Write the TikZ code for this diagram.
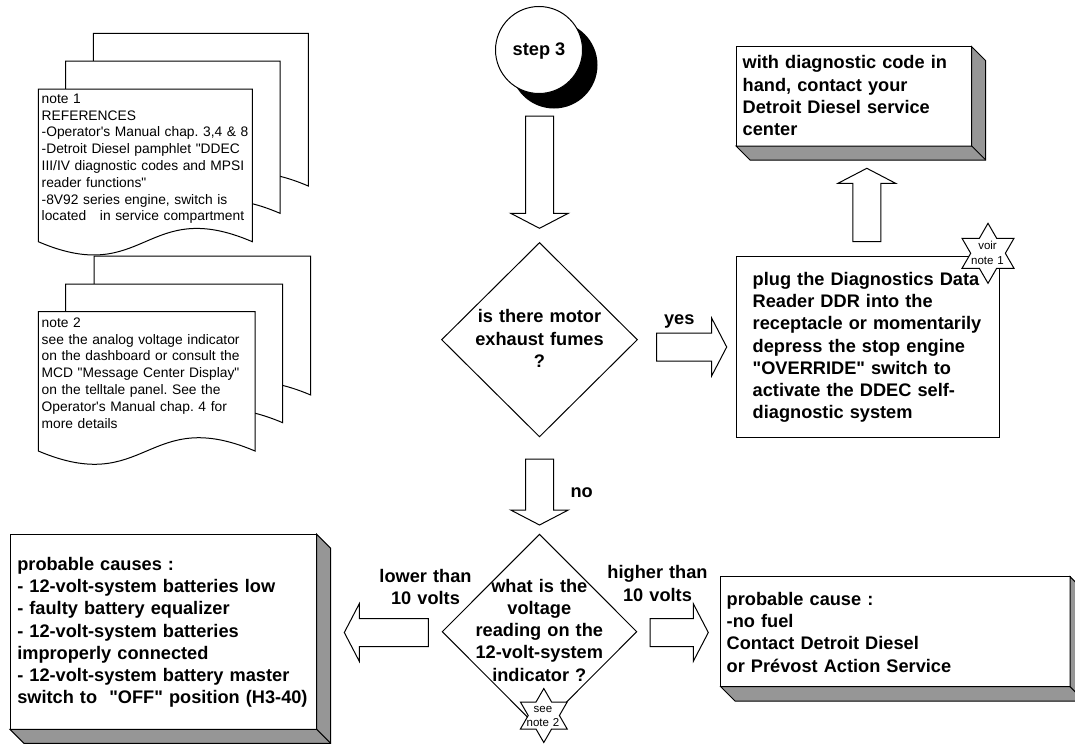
\documentclass[tikz,border=0pt]{standalone}
\usepackage{fontspec}
\setmainfont{Liberation Sans}[Ligatures=TeXOff]
\usetikzlibrary{shapes.geometric,calc}
\definecolor{sidegray}{RGB}{150,150,150}
\frenchspacing
\tikzset{
  every node/.style={inner sep=0pt, outer sep=0pt},
  line/.style={line width=1pt, draw=black},
  bfnt/.style={font=\fontsize{18.2}{22.2}\selectfont\bfseries\frenchspacing},
  btxt/.style={bfnt, align=left, text width=#1, anchor=base west},
  ctxt/.style={bfnt, align=center, text width=#1, anchor=base},
  ntxt/.style={font=\fontsize{13.8}{16.8}\selectfont\frenchspacing, align=left, text width=#1, anchor=base west},
  stxt/.style={font=\fontsize{11.5}{14.5}\selectfont, align=center, text width=40, anchor=base},
  boxnode/.style={rectangle, line, fill=white},
  starnode/.style={star, star points=6, star point ratio=1.732, line, fill=white, minimum size=#1},
  decision/.style={diamond, line, fill=white},
}
\newcommand\docpage[4]{%
  \draw[line, fill=white] (#1,#2) -- ({#1+#3},#2) -- ({#1+#3},{#2+#4})
    .. controls ({#1+#3/2},{#2+#4-46}) and ({#1+#3/2},{#2+#4+46}) .. (#1,{#2+#4}) -- cycle;}
\newcommand\extrude[2]{%
  \filldraw[line, fill=sidegray] (#1.north east) -- ($(#1.north east)+(#2,#2)$) -- ($(#1.south east)+(#2,#2)$)
    -- ($(#1.south west)+(#2,#2)$) -- (#1.south west) -- (#1.south east) -- cycle;
  \draw[line] (#1.south east) -- ($(#1.south east)+(#2,#2)$);}
\newcommand\barrow[3]{%
  \draw[line, fill=white, shift={(#1)}, rotate=#2] (0,-14) -- ({#3-15},-14) -- ({#3-15},-28.8) -- (#3,0)
    -- ({#3-15},28.8) -- ({#3-15},14) -- (0,14) -- cycle;}
\begin{document}
\frenchspacing
\begin{tikzpicture}[x=1pt,y=-1pt]
\useasboundingbox (0,0) rectangle (1075,744);
\clip (0,0) rectangle (1075,744);
\fill[white] (0,0) rectangle (1075,744);

% note 2 stack
\docpage{94}{256}{216.7}{139}
\docpage{65.7}{284}{217}{138.7}
\docpage{38.3}{311.7}{216.7}{139.3}
\node[ntxt=230] (n2) at (41.7,327.3) {note 2\\see the analog voltage indicator\\on the dashboard or consult the\\MCD "Message Center Display"\\on the telltale panel. See the\\Operator's Manual chap. 4 for\\more details};

% note 1 stack
\docpage{93.3}{33.3}{215}{152.7}
\docpage{65.7}{61}{214.3}{152.3}
\docpage{38.3}{89}{214}{152.7}
\node[ntxt=230] (n1) at (41.7,103.3) {note 1\\REFERENCES\\-Operator's Manual chap. 3,4 \& 8\\-Detroit Diesel pamphlet "DDEC\\III/IV diagnostic codes and MPSI\\reader functions"\\-8V92 series engine, switch is\\located\ \ \ in service compartment};

% step 3
\coordinate (stepc) at (539,50);
\fill[black] ($(stepc)+(15,15)$) circle[radius=43.5];
\node[circle, line, fill=white, minimum size=87] (step) at (stepc) {};
\node[bfnt, anchor=base] (steptxt) at (539,55.5) {step 3};

% block arrows
\coordinate (a1) at (539.5,116);
\coordinate (a2) at (656.7,347);
\coordinate (a3) at (866.8,241.7);
\coordinate (a4) at (539.5,459);
\coordinate (a5) at (428.3,632.5);
\coordinate (a6) at (650,632.5);
\barrow{a1}{-90}{112.3}
\barrow{a2}{0}{70}
\barrow{a3}{90}{73.4}
\barrow{a4}{-90}{66}
\barrow{a5}{180}{84}
\barrow{a6}{0}{58.3}

% decision 1
\node[decision, minimum width=195.6, minimum height=194] (d1) at (539.5,339.7) {};
\node[ctxt=180] (q1) at (539.5,322.8) {is there motor\\exhaust fumes\\?};
\node[bfnt, anchor=base] (yes) at (679.3,324) {yes};
\node[bfnt, anchor=base] (no) at (581.7,497.2) {no};

% top box
\node[boxnode, minimum width=235.7, minimum height=99.3] (b1) at (853.85,96.35) {};
\extrude{b1}{14}
\node[btxt=235] (t1) at (742.7,68.8) {with diagnostic code in\\hand, contact your\\Detroit Diesel service\\center};

% plug box
\node[boxnode, minimum width=263.3, minimum height=181.3] (b2) at (867.65,346.65) {};
\node[btxt=260] (t2) at (752.7,285.5) {plug the Diagnostics Data\\Reader DDR into the\\receptacle or momentarily\\depress the stop engine\\"OVERRIDE" switch to\\activate the DDEC self-\\diagnostic system};
\node[starnode=60] (s1) at (988,253.3) {};
\node[stxt] (s1t) at (987.5,249.7) {voir\\note 1};

% decision 2
\node[decision, minimum width=194.4, minimum height=194.8] (d2) at (539.5,631.7) {};
\node[ctxt=190] (q2) at (539.3,592.2) {what is the\\voltage\\reading on the\\12-volt-system\\indicator ?};
\node[starnode=54] (s2) at (543.8,715.5) {};
\node[stxt] (s2t) at (543,712) {see\\note 2};
\node[ctxt=120] (low) at (425.5,582) {lower than\\10 volts};
\node[ctxt=120] (high) at (657.5,578.8) {higher than\\10 volts};

% left box
\node[boxnode, minimum width=306.7, minimum height=195] (b3) at (163.35,631.8) {};
\extrude{b3}{14}
\node[btxt=300] (t3) at (17.3,570.5) {probable causes :\\- 12-volt-system batteries low\\- faulty battery equalizer\\- 12-volt-system batteries\\improperly connected\\- 12-volt-system battery master\\switch to\ \ "OFF" position (H3-40)};

% right box
\node[boxnode, minimum width=349.3, minimum height=110] (b4) at (895.35,631.7) {};
\extrude{b4}{14.5}
\node[btxt=330] (t4) at (726.7,605.5) {probable cause :\\-no fuel\\Contact Detroit Diesel\\or Prévost Action Service};
\end{tikzpicture}
\end{document}
